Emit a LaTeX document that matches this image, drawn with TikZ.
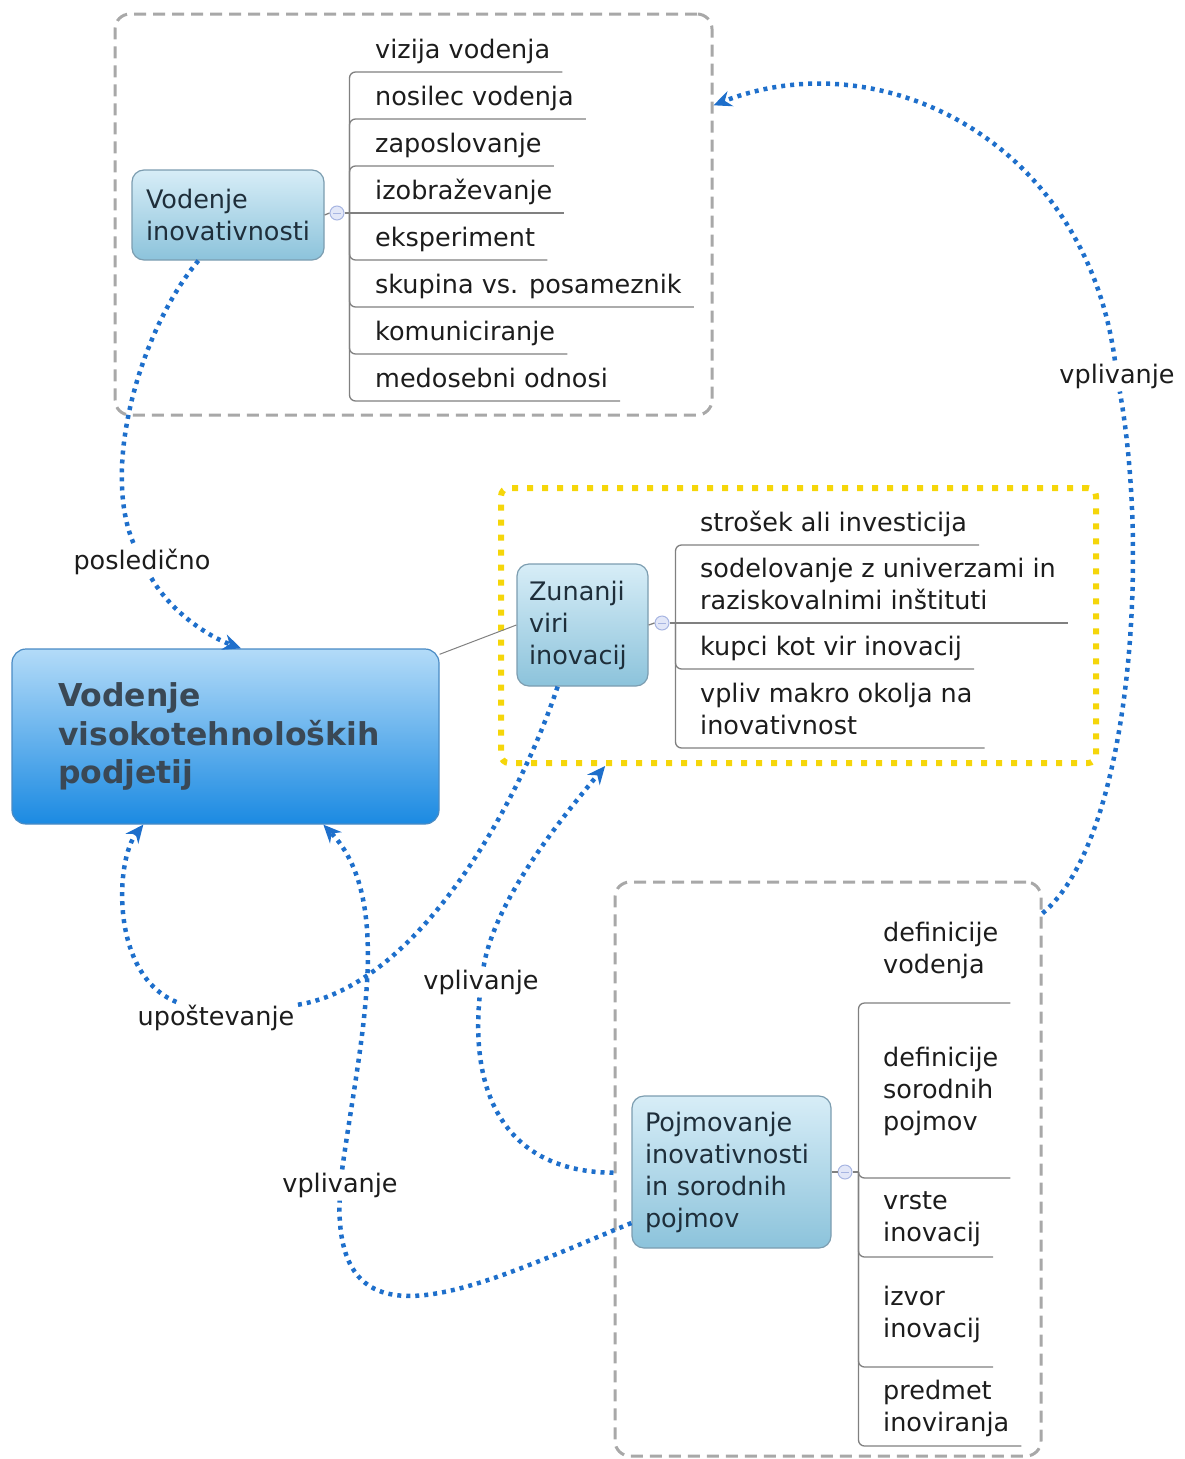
\documentclass[tikz,border=0pt]{standalone}
\usepackage{fontspec}
\setmainfont{DejaVu Sans}
\usetikzlibrary{arrows.meta}
\definecolor{relblue}{HTML}{1E6FCB}
\definecolor{bgray}{HTML}{A8A8A8}
\definecolor{byellow}{HTML}{F5D60A}
\definecolor{brline}{HTML}{808080}
\definecolor{toptop}{HTML}{D7EDF7}
\definecolor{topbot}{HTML}{8CC3DB}
\definecolor{topborder}{HTML}{7C9DB0}
\definecolor{cntop}{HTML}{B3DBF8}
\definecolor{cnbot}{HTML}{1B8AE2}
\definecolor{cnborder}{HTML}{4A8BC4}
\definecolor{cntext}{HTML}{3A4855}
\definecolor{toptext}{HTML}{1E2E3A}
\definecolor{leaftext}{HTML}{1C1C1C}
\definecolor{collfill}{HTML}{E2E7F8}
\definecolor{colldraw}{HTML}{A7B5E2}
\newcommand{\mapfont}{\fontsize{25.5}{32}\selectfont}
\tikzset{
  boundary/.style={draw=bgray, line width=3pt, dash pattern=on 12pt off 7pt, rounded corners=15pt, inner sep=0pt},
  yboundary/.style={draw=byellow, line width=6pt, dash pattern=on 6pt off 9pt, rounded corners=8pt, inner sep=0pt},
  topic/.style={draw=topborder, line width=1.2pt, rounded corners=12pt, top color=toptop, bottom color=topbot, text=toptext, font=\mapfont, align=left},
  central/.style={draw=cnborder, line width=1.2pt, rounded corners=14pt, top color=cntop, bottom color=cnbot, text=cntext, font=\fontsize{31.5}{38.5}\selectfont\bfseries, align=left},
  leaf/.style={font=\mapfont, text=leaftext, anchor=south west, inner xsep=12pt, inner ysep=#1, align=left},
  leaf/.default=3.5pt,
  coll/.style={circle, draw=colldraw, fill=collfill, line width=1pt, minimum size=14pt, inner sep=0pt,
    path picture={\draw[colldraw, line width=1pt] ([xshift=-4pt]path picture bounding box.center) -- ([xshift=4pt]path picture bounding box.center);}},
  branch/.style={draw=brline, line width=1.3pt},
  relnt/.style={draw=relblue, line width=4.5pt, dash pattern=on 4pt off 5pt},
  rel/.style={relnt, -{Stealth[length=18pt,width=16pt]}},
  rlabel/.style={font=\mapfont, text=leaftext, fill=white, inner sep=3pt},
}
\begin{document}
\begin{tikzpicture}[x=1pt,y=-1pt]
\useasboundingbox (0,0) rectangle (1185,1459);

% boundaries
\node[boundary, minimum width=597pt, minimum height=401pt] (bt) at (413.5,214.5) {};
\node[yboundary, minimum width=595pt, minimum height=275pt] (by) at (798.5,625.5) {};
\node[boundary, minimum width=426pt, minimum height=574pt] (bb) at (828,1169) {};

% topics
\node[central, text width=335pt, inner xsep=46pt, minimum height=175pt] (cn) at (225.5,736.5) {Vodenje\\visokotehnoloških\\podjetij};
\node[topic, text width=164pt, inner xsep=14pt, minimum height=90pt] (vi) at (228,215) {Vodenje\\inovativnosti};
\node[topic, text width=107pt, inner xsep=12pt, minimum height=122pt] (zu) at (582.5,625) {Zunanji\\viri\\inovacij};
\node[topic, text width=173pt, inner xsep=13pt, minimum height=152pt] (pj) at (731.5,1172) {Pojmovanje\\inovativnosti\\in sorodnih\\pojmov};

\draw[draw=gray, line width=1pt] (cn.21) -- (zu.west);

% collapse markers
\node[coll] (cv) at (337,213) {};
\node[coll] (cz) at (662,623) {};
\node[coll] (cp) at (845,1172) {};
\draw[branch] (vi.east) -- (cv.west);
\draw[branch] (zu.east) -- (cz.west);
\draw[branch] (pj.east) -- (cp.west);

% leaves: top
\node[leaf] (t1) at (363,72) {vizija vodenja\strut};
\node[leaf] (t2) at (363,119) {nosilec vodenja\strut};
\node[leaf] (t3) at (363,166) {zaposlovanje\strut};
\node[leaf] (t4) at (363,213) {izobraževanje\strut};
\node[leaf] (t5) at (363,260) {eksperiment\strut};
\node[leaf] (t6) at (363,307) {skupina vs. posameznik\strut};
\node[leaf] (t7) at (363,354) {komuniciranje\strut};
\node[leaf] (t8) at (363,401) {medosebni odnosi\strut};
\draw[branch] (cv.east) -- ++(5,0) coordinate (jv);
\draw[branch] (jv) -- (t4.south east);
\foreach \n in {t1,t2,t3,t5,t6,t7,t8}
  \draw[branch, rounded corners=6pt] (jv) |- (\n.south east);

% leaves: yellow
\node[leaf] (y1) at (688,545) {strošek ali investicija\strut};
\node[leaf] (y2) at (688,623) {sodelovanje z univerzami in\\raziskovalnimi inštituti\strut};
\node[leaf] (y3) at (688,669) {kupci kot vir inovacij\strut};
\node[leaf] (y4) at (688,748) {vpliv makro okolja na\\inovativnost\strut};
\draw[branch] (cz.east) -- ++(6,0) coordinate (jz);
\draw[branch] (jz) -- (y2.south east);
\foreach \n in {y1,y3,y4}
  \draw[branch, rounded corners=6pt] (jz) |- (\n.south east);

% leaves: bottom
\node[leaf=19.5pt] (p1) at (871,1003) {definicije\\vodenja\strut};
\node[leaf=37.5pt] (p2) at (871,1178) {definicije\\sorodnih\\pojmov\strut};
\node[leaf=5.5pt] (p3) at (871,1257) {vrste\\inovacij\strut};
\node[leaf=19.5pt] (p4) at (871,1367) {izvor\\inovacij\strut};
\node[leaf=4.5pt] (p5) at (871,1446) {predmet\\inoviranja\strut};
\draw[branch] (cp.east) -- ++(6,0) coordinate (jp);
\foreach \n in {p1,p2,p3,p4,p5}
  \draw[branch, rounded corners=6pt] (jp) |- (\n.south east);

% relationship labels
\node[rlabel] (lp) at (142,562) {posledično};
\node[rlabel] (lu) at (216,1018) {upoštevanje};
\node[rlabel] (lv1) at (481,982) {vplivanje};
\node[rlabel] (lv2) at (340,1185) {vplivanje};
\node[rlabel] (lv3) at (1117,376) {vplivanje};

% relationships
\draw[relnt] (vi.237) .. controls (140,330) and (100,470) .. (lp);
\draw[rel] (lp) .. controls (170,610) and (205,635) .. (cn.80);

\draw[relnt] (zu.248) .. controls (520,800) and (420,985) .. (lu);
\draw[rel] (lu) .. controls (110,975) and (115,860) .. (cn.227);

\draw[relnt] (pj.207) .. controls (480,1285) and (335,1360) .. (lv2);
\draw[rel] (lv2) .. controls (360,1040) and (395,900) .. (cn.318);

\draw[relnt] (bb.181) .. controls (510,1172) and (470,1100) .. (lv1);
\draw[rel] (lv1) .. controls (495,900) and (560,820) .. (by.216);

\draw[relnt] (bb.50) .. controls (1130,840) and (1150,560) .. (lv3);
\draw[rel] (lv3) .. controls (1085,140) and (880,40) .. (bt.20);
\end{tikzpicture}
\end{document}
